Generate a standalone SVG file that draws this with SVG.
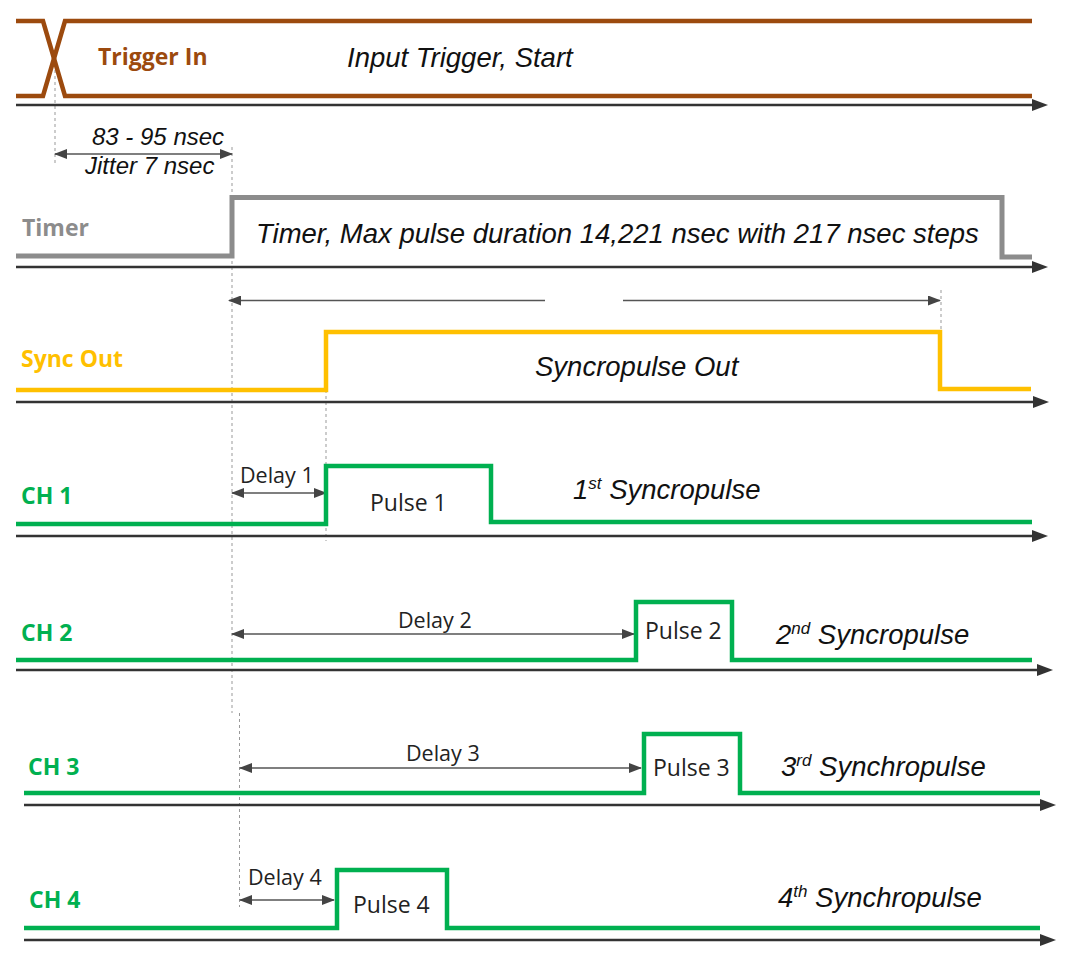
<svg xmlns="http://www.w3.org/2000/svg" width="1077" height="974" viewBox="0 0 1077 974">
<defs>
<marker id="ax" markerWidth="16" markerHeight="12" refX="0" refY="6" orient="auto" markerUnits="userSpaceOnUse"><path d="M0,0 L16,6 L0,12 z" fill="#333"/></marker>
<marker id="dm" markerWidth="13" markerHeight="10" refX="12" refY="5" orient="auto-start-reverse" markerUnits="userSpaceOnUse"><path d="M0,0 L13,5 L0,10 z" fill="#444"/></marker>
<style>
.axis{stroke:#333;stroke-width:2.5;fill:none}
.dim{stroke:#555;stroke-width:1.5;fill:none;marker-start:url(#dm);marker-end:url(#dm)}
.dimh{stroke:#555;stroke-width:1.5;fill:none}
.guide{stroke:#999;stroke-width:1;stroke-dasharray:3,3;fill:none}
.sig{fill:none;stroke-width:4.5;stroke-linejoin:miter}
.trig{stroke:#9C4A0E}
.tmr{stroke:#8C8C8C;stroke-width:5}
.sync{stroke:#FFC000}
.ch{stroke:#00B050}
.it{font-family:"Liberation Sans",Arial,sans-serif;font-style:italic;font-size:27.5px;fill:#111}
.sm{font-family:"Liberation Sans",Arial,sans-serif;font-style:italic;font-size:24px;fill:#111}
.lb{font-family:"Open Sans","Noto Sans",sans-serif;font-weight:bold;font-size:23px}
.dl{font-family:"Open Sans","Noto Sans",sans-serif;font-size:21.5px;fill:#222}
.pl{font-family:"Open Sans","Noto Sans",sans-serif;font-size:23px;fill:#222}
.sup{font-size:17px}
</style>
</defs>

<g id="guides">
<line class="guide" x1="55" y1="70" x2="55" y2="164"/>
<line class="guide" x1="232" y1="147" x2="232" y2="713"/>
<line class="guide" x1="239.5" y1="713" x2="239.5" y2="907"/>
<line class="guide" x1="326" y1="390" x2="326" y2="541"/>
<line class="guide" x1="941" y1="290" x2="941" y2="333"/>
</g>

<g id="connectors">
<line class="axis" x1="16" y1="105" x2="1032" y2="105" marker-end="url(#ax)"/>
<line class="axis" x1="16" y1="267" x2="1032" y2="267" marker-end="url(#ax)"/>
<line class="axis" x1="16" y1="402" x2="1033" y2="402" marker-end="url(#ax)"/>
<line class="axis" x1="16" y1="536" x2="1032" y2="536" marker-end="url(#ax)"/>
<line class="axis" x1="16" y1="670" x2="1037" y2="670" marker-end="url(#ax)"/>
<line class="axis" x1="24" y1="805" x2="1040" y2="805" marker-end="url(#ax)"/>
<line class="axis" x1="24" y1="940" x2="1040" y2="940" marker-end="url(#ax)"/>

<line class="dim" x1="55" y1="154" x2="232" y2="154"/>
<line class="dimh" x1="229" y1="300.5" x2="545" y2="300.5" marker-start="url(#dm)"/>
<line class="dimh" x1="623" y1="300.5" x2="940" y2="300.5" marker-end="url(#dm)"/>
<line class="dim" x1="232" y1="493" x2="326" y2="493"/>
<line class="dim" x1="232" y1="634" x2="634" y2="634"/>
<line class="dim" x1="240" y1="768" x2="641" y2="768"/>
<line class="dim" x1="240" y1="900" x2="334" y2="900"/>
</g>

<g id="trigger">
<path class="sig trig" stroke-linejoin="round" d="M16,21 L43,21 L65,96 L1032,96"/>
<path class="sig trig" stroke-linejoin="round" d="M16,96 L43,96 L65,21 L1032,21"/>
<text class="lb" x="98" y="65" fill="#9C4A0E">Trigger In</text>
<text class="it" x="347" y="67">Input Trigger, Start</text>
</g>

<g id="jitter">
<text class="sm" x="92" y="145">83 - 95 nsec</text>
<text class="sm" x="85" y="174">Jitter 7 nsec</text>
</g>

<g id="timer">
<path class="sig tmr" d="M16,256 L232,256 L232,197.5 L1002,197.5 L1002,257 L1032,257"/>
<text class="lb" x="22" y="236" fill="#8C8C8C">Timer</text>
<text class="it" x="256" y="243">Timer, Max pulse duration 14,221 nsec with 217 nsec steps</text>
</g>

<g id="syncout">
<path class="sig sync" d="M16,390 L326,390 L326,332 L940,332 L940,389 L1031,389"/>
<text class="lb" x="21" y="367" fill="#FFC000">Sync Out</text>
<text class="it" x="535" y="376">Syncropulse Out</text>
</g>

<g id="ch1">
<path class="sig ch" d="M16,524 L326,524 L326,466 L491,466 L491,522 L1032,522"/>
<text class="lb" x="21" y="504" fill="#00B050">CH 1</text>
<text class="dl" x="240" y="483">Delay 1</text>
<text class="pl" x="370" y="511">Pulse 1</text>
<text class="it" x="573" y="499">1<tspan class="sup" dy="-10">st</tspan><tspan dy="10"> Syncropulse</tspan></text>
</g>

<g id="ch2">
<path class="sig ch" d="M16,660 L636,660 L636,602 L732,602 L732,660 L1032,660"/>
<text class="lb" x="21" y="641" fill="#00B050">CH 2</text>
<text class="dl" x="398" y="628">Delay 2</text>
<text class="pl" x="645" y="639">Pulse 2</text>
<text class="it" x="776" y="644">2<tspan class="sup" dy="-10">nd</tspan><tspan dy="10"> Syncropulse</tspan></text>
</g>

<g id="ch3">
<path class="sig ch" d="M24,793 L644,793 L644,734 L740,734 L740,793 L1040,793"/>
<text class="lb" x="28" y="775" fill="#00B050">CH 3</text>
<text class="dl" x="406" y="761">Delay 3</text>
<text class="pl" x="653" y="776">Pulse 3</text>
<text class="it" x="781" y="776">3<tspan class="sup" dy="-10">rd</tspan><tspan dy="10"> Synchropulse</tspan></text>
</g>

<g id="ch4">
<path class="sig ch" d="M24,928 L337,928 L337,870 L447,870 L447,928 L1040,928"/>
<text class="lb" x="29" y="908" fill="#00B050">CH 4</text>
<text class="dl" x="248" y="885">Delay 4</text>
<text class="pl" x="353" y="913">Pulse 4</text>
<text class="it" x="778" y="907">4<tspan class="sup" dy="-10">th</tspan><tspan dy="10"> Synchropulse</tspan></text>
</g>
</svg>
